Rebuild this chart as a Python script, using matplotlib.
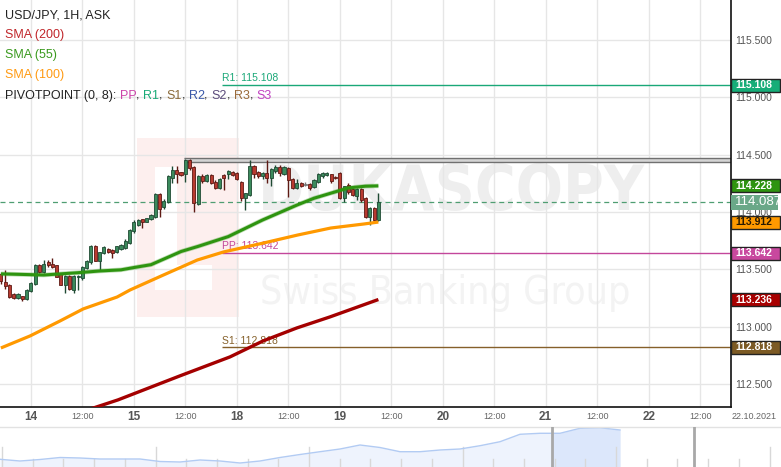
import numpy as np
import matplotlib
matplotlib.use("Agg")
import matplotlib.pyplot as plt
from matplotlib.patches import Rectangle

plt.rcParams['font.family'] = ['Liberation Sans', 'DejaVu Sans']

# USD/JPY 1H ask candles, x = trading hours since 14.10 00:00 (weekend removed)
hours = np.arange(-7, 82)
opens = [113.46, 113.39, 113.36, 113.28, 113.25, 113.27, 113.24, 113.31, 113.37, 113.54,
         113.48, 113.56, 113.55, 113.535, 113.456, 113.36, 113.44, 113.32, 113.43, 113.42,
         113.51, 113.56, 113.70, 113.57, 113.64, 113.68, 113.67, 113.65, 113.68, 113.69,
         113.73, 113.83, 113.89, 113.935, 113.915, 113.935, 113.96, 114.16, 114.04, 114.09,
         114.30, 114.37, 114.345, 114.33, 114.45, 114.39, 114.07, 114.314, 114.27, 114.32,
         114.26, 114.21, 114.32, 114.33, 114.35, 114.34, 114.26, 114.12, 114.15, 114.40,
         114.35, 114.31, 114.34, 114.30, 114.36, 114.39, 114.33, 114.38, 114.29, 114.21,
         114.25, 114.235, 114.24, 114.22, 114.26, 114.31, 114.32, 114.33, 114.305, 114.34,
         114.12, 114.235, 114.20, 114.14, 114.20, 114.12, 113.96, 114.035, 113.93]
highs = [113.47, 113.49, 113.37, 113.29, 113.29, 113.27, 113.33, 113.39, 113.55, 113.55,
         113.58, 113.58, 113.60, 113.54, 113.46, 113.45, 113.45, 113.45, 113.45, 113.53,
         113.58, 113.71, 113.71, 113.655, 113.70, 113.69, 113.675, 113.705, 113.72, 113.76,
         113.85, 113.93, 113.94, 113.94, 113.95, 113.98, 114.17, 114.17, 114.11, 114.32,
         114.40, 114.40, 114.35, 114.46, 114.46, 114.40, 114.32, 114.33, 114.33, 114.33,
         114.275, 114.30, 114.33, 114.37, 114.36, 114.35, 114.27, 114.17, 114.45, 114.41,
         114.36, 114.35, 114.455, 114.38, 114.41, 114.41, 114.40, 114.39, 114.30, 114.285,
         114.26, 114.265, 114.25, 114.29, 114.34, 114.35, 114.345, 114.335, 114.31, 114.345,
         114.23, 114.25, 114.21, 114.21, 114.21, 114.13, 114.04, 114.045, 114.17]
lows = [113.37, 113.33, 113.25, 113.24, 113.24, 113.22, 113.23, 113.30, 113.36, 113.47,
        113.47, 113.52, 113.51, 113.43, 113.36, 113.29, 113.32, 113.29, 113.32, 113.41,
        113.50, 113.55, 113.57, 113.49, 113.63, 113.645, 113.60, 113.64, 113.67, 113.68,
        113.72, 113.82, 113.88, 113.86, 113.91, 113.93, 113.95, 113.96, 114.03, 114.08,
        114.25, 114.25, 114.31, 114.26, 114.37, 114.00, 114.06, 114.25, 114.26, 114.245,
        114.20, 114.20, 114.19, 114.29, 114.31, 114.28, 114.10, 114.02, 114.14, 114.30,
        114.30, 114.29, 114.25, 114.23, 114.34, 114.31, 114.32, 114.13, 114.20, 114.20,
        114.22, 114.225, 114.19, 114.21, 114.25, 114.30, 114.315, 114.255, 114.285, 114.11,
        114.09, 114.16, 114.14, 114.105, 114.09, 113.95, 113.885, 113.915, 113.92]
closes = [113.40, 113.35, 113.26, 113.25, 113.28, 113.24, 113.32, 113.38, 113.54, 113.48,
          113.55, 113.54, 113.52, 113.436, 113.363, 113.44, 113.33, 113.44, 113.44, 113.52,
          113.57, 113.70, 113.575, 113.65, 113.69, 113.65, 113.64, 113.70, 113.71, 113.75,
          113.84, 113.91, 113.93, 113.91, 113.945, 113.975, 114.16, 114.03, 114.10, 114.31,
          114.37, 114.335, 114.32, 114.455, 114.38, 114.075, 114.31, 114.27, 114.32, 114.25,
          114.21, 114.29, 114.30, 114.36, 114.32, 114.29, 114.12, 114.165, 114.40, 114.33,
          114.31, 114.34, 114.30, 114.375, 114.39, 114.34, 114.39, 114.28, 114.21, 114.25,
          114.23, 114.235, 114.21, 114.28, 114.33, 114.34, 114.34, 114.27, 114.295, 114.12,
          114.225, 114.175, 114.15, 114.20, 114.105, 113.955, 114.035, 113.93, 114.087]

# moving averages
sma55_h = [-7, 3, 11, 16, 21, 24, 28, 35, 39, 46, 54, 62, 66, 70, 74, 78, 81]
sma55 = [113.46, 113.45, 113.47, 113.485, 113.495, 113.515, 113.54, 113.655, 113.70,
         113.785, 113.93, 114.06, 114.12, 114.165, 114.21, 114.225, 114.228]
sma100_h = [-7, -0.2, 6.8, 12.2, 20.1, 23.1, 27.8, 30.9, 38.8, 44.9, 54.2, 62.2, 69.9, 77.6, 81]
sma100 = [112.813, 112.918, 113.049, 113.154, 113.258, 113.319, 113.398, 113.45, 113.581,
          113.651, 113.729, 113.799, 113.86, 113.895, 113.912]
sma200_h = [13, 20.3, 34.7, 46.4, 54.1, 62, 69.7, 81]
sma200 = [112.27, 112.36, 112.569, 112.735, 112.874, 112.988, 113.084, 113.236]

pivot_names = ['R1', 'PP', 'S1']
pivot_values = [115.108, 113.642, 112.818]
pivot_colors = ['#1aa878', '#c3479b', '#85602a']
pivot_start = 44.5

last_price = 114.087
band_low, band_high, band_start = 114.436, 114.468, 35.6

tick_hours = list(range(0, 157, 12))
tick_labels = ['14', '12:00', '15', '12:00', '18', '12:00', '19', '12:00',
               '20', '12:00', '21', '12:00', '22', '12:00']
price_ticks = [112.5, 113.0, 113.5, 114.0, 114.5, 115.0, 115.5]

# navigator history
nav = [110.08, 109.84, 110.05, 110.33, 110.26, 110.12, 110.12, 110.12, 109.77, 109.70,
       109.98, 109.84, 109.56, 109.84, 110.33, 110.75, 111.14, 111.52, 112.08, 111.73,
       111.14, 111.14, 111.38, 111.52, 111.98, 112.54, 113.58, 113.72, 113.72, 114.42,
       114.50, 114.18]

W, H = 781, 467
fig = plt.figure(figsize=(W / 100, H / 100), dpi=100)
ax = fig.add_axes([0, 60 / H, 731 / W, 407 / H])
xmin, xmax = -7.2, 163.2
ymin, ymax = 112.298, 115.850
ax.set_xlim(xmin, xmax)
ax.set_ylim(ymin, ymax)
ppu = 407 / (ymax - ymin)  # pixels per price unit

# watermark
def frac_rect(x0, y0, x1, y1, color):
    ax.add_patch(Rectangle((x0 / 731, 1 - y1 / 407), (x1 - x0) / 731, (y1 - y0) / 407,
                           transform=ax.transAxes, fc=color, ec='none', zorder=0.1))

frac_rect(137, 138, 239, 317, '#fdefee')
frac_rect(155, 167, 177, 290, 'white')
frac_rect(155, 265, 212, 290, 'white')
wm1 = ax.text(0.618, 0.5, 'DUKASCOPY', transform=ax.transAxes, ha='center', va='baseline',
              fontsize=40, fontweight='bold', family='DejaVu Sans', fontstretch='condensed',
              color='#eeeeee', zorder=0.2)
wm2 = ax.text(0.609, 0.3, 'Swiss Banking Group', transform=ax.transAxes, ha='center',
              va='baseline', fontsize=30, family='DejaVu Sans', fontstretch='condensed',
              color='#f3f3f3', zorder=0.2)
renderer = fig.canvas.get_renderer()
for txt, width, cap_mid in [(wm1, 387, 187.5), (wm2, 370, 290)]:
    fs = txt.get_fontsize() * width / txt.get_window_extent(renderer).width
    txt.set_fontsize(fs)
    cap = 0.73 * fs * 100 / 72
    txt.set_y(1 - (cap_mid + cap / 2) / 407)

ax.set_xticks(tick_hours)
ax.set_xticklabels(tick_labels)
ax.set_yticks(price_ticks)
ax.set_yticklabels([f'{p:.3f}' for p in price_ticks])
ax.yaxis.tick_right()
ax.grid(True, color='#e6e6e6', lw=1)
ax.set_axisbelow(True)
ax.tick_params(axis='y', length=0, pad=3, labelsize=7.5, labelcolor='#555555')
ax.tick_params(axis='x', length=0, pad=7)
for lbl in ax.get_xticklabels():
    if ':' in lbl.get_text():
        lbl.set_fontsize(6.5)
        lbl.set_color('#666666')
    else:
        lbl.set_fontsize(8.5)
        lbl.set_fontweight('bold')
        lbl.set_color('#555555')
    lbl.set_va('center')
for s in ['left', 'top']:
    ax.spines[s].set_visible(False)
for s in ['right', 'bottom']:
    ax.spines[s].set_color('#111111')
    ax.spines[s].set_linewidth(1.2)
ax.text(754 / 731, -9.7 / 407, '22.10.2021', transform=ax.transAxes, ha='center', va='center',
        fontsize=6.5, color='#666666', clip_on=False)

# pivots, band, last price
for name, v, col in zip(pivot_names, pivot_values, pivot_colors):
    ax.hlines(v, pivot_start, xmax, color=col, lw=1, zorder=2)
    ax.annotate(f'{name}: {v:.3f}', (pivot_start, v), xytext=(0.5, 1.2), textcoords='offset points',
                fontsize=7.5, color=col, va='bottom', ha='left', zorder=2)
ax.fill_between([band_start, xmax], band_low, band_high, color='#d4d4d4', lw=0, zorder=2)
ax.hlines([band_low, band_high], band_start, xmax, color='#707070', lw=1, zorder=2)
ax.axhline(last_price, color='#4f9e72', lw=0.9, ls=(0, (4, 3)), zorder=2)

# candles
o, h, l, c = map(np.array, (opens, highs, lows, closes))
fill = np.where(c > o, '#3b8a5c', np.where(c < o, '#b83a30', '#888888'))
edge = np.where(c > o, '#1f4a33', np.where(c < o, '#5e1a14', '#777777'))
ax.vlines(hours, l, h, colors=edge, lw=1, zorder=3)
ax.bar(hours, np.maximum(np.abs(c - o), 0.006), bottom=np.minimum(o, c), width=0.72,
       color=fill, edgecolor=edge, linewidth=0.6, zorder=4)

# moving averages
ax.plot(sma200_h, sma200, color='#a40000', lw=2.4, zorder=5, solid_capstyle='butt')
ax.plot(sma100_h, sma100, color='#ff9900', lw=2.3, zorder=5, solid_capstyle='butt')
ax.plot(sma55_h, sma55, color='#2e9410', lw=3.3, alpha=0.3, zorder=5, solid_capstyle='butt')
ax.plot(sma55_h, sma55, color='#2e9410', lw=2.2, zorder=5, solid_capstyle='butt')

# legend
ly = [15, 35, 55, 75, 96]
legend_rows = [('USD/JPY, 1H, ASK', '#222222'), ('SMA (200)', '#c0262a'),
               ('SMA (55)', '#3a9a1e'), ('SMA (100)', '#ff9a12')]
for (txt, col), yy in zip(legend_rows, ly):
    ax.text(5 / 731, 1 - yy / 407, txt, transform=ax.transAxes, fontsize=9, color=col,
            va='center', ha='left', zorder=7)
parts = [('PIVOTPOINT (0, 8): ', '#222222'), ('PP', '#cc44aa'), (', ', '#222222'),
         ('R1', '#1aaa77'), (', ', '#222222'), ('S1', '#8a6a3a'), (', ', '#222222'),
         ('R2', '#3a58a8'), (', ', '#222222'), ('S2', '#5a4a7a'), (', ', '#222222'),
         ('R3', '#9a6a3a'), (', ', '#222222'), ('S3', '#c040c0')]
t = ax.text(5 / 731, 1 - ly[4] / 407, parts[0][0], transform=ax.transAxes, fontsize=9,
            color=parts[0][1], va='center', ha='left', zorder=7)
for txt, col in parts[1:]:
    t = ax.annotate(txt, xy=(1, 0), xycoords=t, va='bottom', ha='left', fontsize=9,
                    color=col, zorder=7)

# price boxes on the right axis
markers = [(pivot_values[0], '#16ad78', 'white'), (sma55[-1], '#2e9410', 'white'),
           (sma100[-1], '#ff9900', '#2a1a00'), (pivot_values[1], '#c8489e', 'white'),
           (sma200[-1], '#a80000', 'white'), (pivot_values[2], '#7c5a24', 'white')]
ytr = ax.get_yaxis_transform()
for v, fc, tc in markers:
    ax.add_patch(Rectangle((1.0, v - 6.5 / ppu), 49 / 731, 13 / ppu, transform=ytr, fc=fc,
                           ec='#222222', lw=1, clip_on=False, zorder=6))
    ax.text(735 / 731, v, f'{v:.3f}', transform=ytr, fontsize=7.5, color=tc, fontweight='bold',
            va='center', ha='left', zorder=7, clip_on=False)
ax.add_patch(Rectangle((1.0, last_price - 7.5 / ppu), 47 / 731, 15 / ppu, transform=ytr,
                       fc='#6aa888', ec='none', clip_on=False, zorder=6))
ax.text(735 / 731, last_price, f'{last_price:.3f}', transform=ytr, fontsize=9.5, color='white',
        va='center', ha='left', zorder=7, clip_on=False)

# navigator
nav_ax = fig.add_axes([0, 0, 1, 40 / H])
nav_ax.set_axis_off()
nav_x = np.arange(len(nav))
nav_ax.set_xlim(0, W / 20)
nav_ax.set_ylim(109.0, 114.6)
xtr = nav_ax.get_xaxis_transform()
for k in range(26):
    gx = (2 + 30.7 * k) / 20
    nav_ax.plot([gx, gx], [0, 0.5 if k % 5 == 0 else 0.2], transform=xtr, color='#d8d8d8',
                lw=1, zorder=1)
nav_ax.fill_between(nav_x, nav, 109.0, color='#eef3fd', lw=0, zorder=0.5)
dark = nav_ax.fill_between(nav_x, nav, 109.0, color='#dce7fb', lw=0, zorder=0.6)
sel_lo, sel_hi = 552 / 20, 694 / 20
dark.set_clip_path(Rectangle((sel_lo, 109.0), sel_hi - sel_lo, 6, transform=nav_ax.transData))
nav_ax.plot(nav_x, nav, color='#b2cbf3', lw=1, zorder=2)
nav_ax.plot([sel_lo, sel_lo], [0, 1], transform=xtr, color='#a8a8a8', lw=2, zorder=3)
nav_ax.plot([sel_hi, sel_hi], [0, 1], transform=xtr, color='#a8a8a8', lw=2, zorder=3)
nav_ax.plot([0, 1], [1, 1], transform=nav_ax.transAxes, color='#e2e2e2', lw=1, clip_on=False)

fig.savefig('out.png', dpi=100)
